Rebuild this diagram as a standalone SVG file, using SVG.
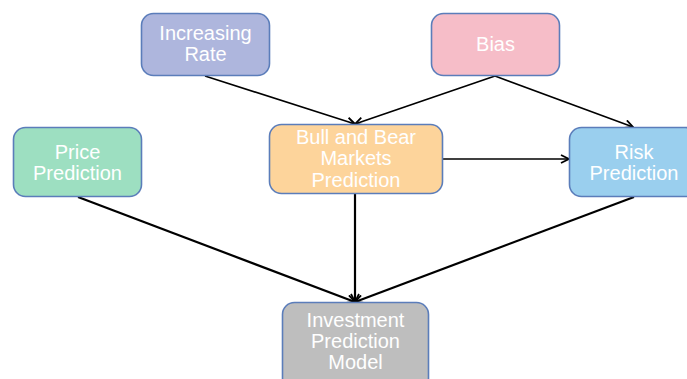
<svg xmlns="http://www.w3.org/2000/svg" width="687" height="379" viewBox="0 0 687 379">
<defs>
<marker id="ah" markerWidth="10" markerHeight="10" refX="9" refY="5" orient="auto" markerUnits="userSpaceOnUse" viewBox="0 0 10 10">
<path d="M1,1 L9,5 L1,9" fill="none" stroke="#000" stroke-width="1.8"/>
</marker>
<style>
.n{stroke:#5B7DBA;stroke-width:1.6}
.t{font-family:"Liberation Sans",Arial,sans-serif;font-size:20px;fill:#fff;text-anchor:middle}
.c{stroke:#000;stroke-width:1.6;fill:none;marker-end:url(#ah)}
.c2{stroke:#000;stroke-width:2.2;fill:none;marker-end:url(#ah)}
</style>
</defs>
<rect width="687" height="379" fill="#fff"/>
<g id="connectors">
<line class="c" x1="205" y1="76" x2="355" y2="124"/>
<line class="c" x1="495" y1="76" x2="355" y2="124"/>
<line class="c" x1="495" y1="76" x2="633" y2="127"/>
<line class="c" x1="443" y1="159" x2="569" y2="159"/>
<line class="c2" x1="355" y1="194" x2="355" y2="302"/>
<line class="c2" x1="78" y1="197" x2="355" y2="302"/>
<line class="c2" x1="634" y1="197" x2="355" y2="302"/>
</g>
<g id="increasing-rate">
<rect class="n" x="141.5" y="13.5" width="128" height="62" rx="12" fill="#AEB6DD"/>
<text class="t" x="205.5" y="40">Increasing</text>
<text class="t" x="205.5" y="61">Rate</text>
</g>
<g id="bias">
<rect class="n" x="431.5" y="13.5" width="128" height="62" rx="12" fill="#F6BDC8"/>
<text class="t" x="495.5" y="51">Bias</text>
</g>
<g id="price-prediction">
<rect class="n" x="13.5" y="127.5" width="128" height="69" rx="12" fill="#9DDFC1"/>
<text class="t" x="77.5" y="159">Price</text>
<text class="t" x="77.5" y="180">Prediction</text>
</g>
<g id="bull-bear">
<rect class="n" x="269.5" y="124.5" width="173" height="69" rx="12" fill="#FDD49B"/>
<text class="t" x="356" y="144">Bull and Bear</text>
<text class="t" x="356" y="165">Markets</text>
<text class="t" x="356" y="187">Prediction</text>
</g>
<g id="risk-prediction">
<rect class="n" x="569.5" y="127.5" width="128" height="69" rx="12" fill="#9ACFEE"/>
<text class="t" x="634" y="159">Risk</text>
<text class="t" x="634" y="180">Prediction</text>
</g>
<g id="investment">
<rect class="n" x="282.5" y="302.5" width="146" height="90" rx="12" fill="#BEBEBE"/>
<text class="t" x="355.5" y="327">Investment</text>
<text class="t" x="355.5" y="348">Prediction</text>
<text class="t" x="355.5" y="369">Model</text>
</g>
</svg>
